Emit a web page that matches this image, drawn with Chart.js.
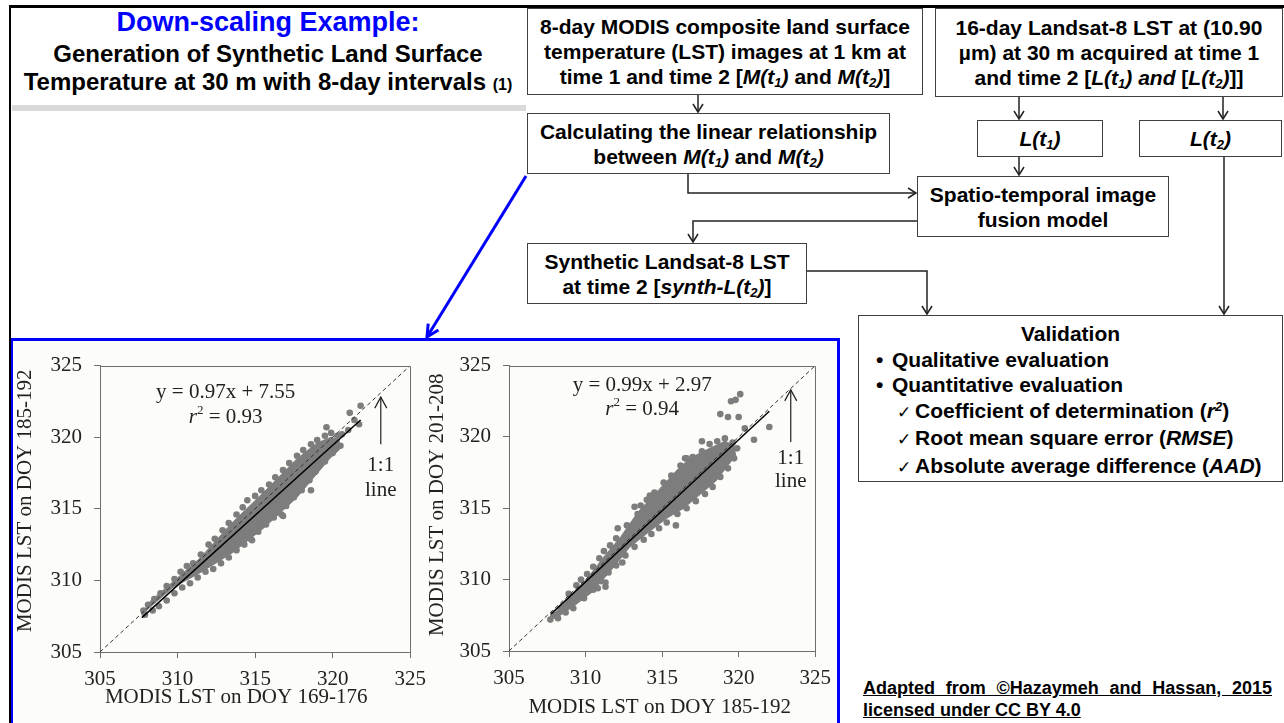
<!DOCTYPE html>
<html>
<head>
<meta charset="utf-8">
<script src="https://cdn.jsdelivr.net/npm/chart.js@4.4.1/dist/chart.umd.min.js"></script>
<style>
  html, body { margin:0; padding:0; background:#fff; }
  body { width:1284px; height:723px; position:relative; overflow:hidden; font-family:"Liberation Sans", Arial, sans-serif; }
  .abs { position:absolute; }
  .box { position:absolute; box-sizing:border-box; border:1.5px solid #404040; background:#fff;
         display:flex; align-items:center; justify-content:center; text-align:center;
         font-weight:bold; font-size:21px; line-height:25px; color:#000; white-space:nowrap; }
  sub { font-size:0.62em; vertical-align:-0.22em; line-height:0; }
  sup { font-size:0.62em; vertical-align:0.55em; line-height:0; }
  .chk { display:inline-block; width:18px; font-family:"DejaVu Sans", sans-serif; font-weight:normal; font-size:17px; }
  .bul { display:inline-block; width:16px; }
  canvas { position:absolute; }
</style>
</head>
<body>
<!-- frame -->
<div class="abs" style="left:9px;top:5px;width:1275px;height:2.5px;background:#000"></div>

<!-- title -->
<div class="abs" style="left:12px;top:5px;width:512px;text-align:center;font-weight:bold;color:#0000ff;font-size:27px;line-height:34px">Down-scaling Example:</div>
<div class="abs" style="left:12px;top:40px;width:512px;text-align:center;font-weight:bold;color:#000;font-size:24px;line-height:28px">Generation of Synthetic Land Surface<br>Temperature at 30 m with 8-day intervals <span style="font-size:16px">(1)</span></div>
<div class="abs" style="left:12px;top:105px;width:514px;height:6px;background:#d9d9d9"></div>

<!-- blue box with the two charts -->
<div class="abs" style="left:10px;top:337.5px;width:830px;height:400px;box-sizing:border-box;border:3px solid #0000ff;background:#fcfcf8"></div>
<canvas id="c1" width="425" height="382" style="left:10px;top:341px"></canvas>
<canvas id="c2" width="420" height="382" style="left:420px;top:341px"></canvas>
<div class="abs" style="left:8.5px;top:5px;width:2.5px;height:718px;background:#000"></div>

<!-- flowchart boxes -->
<div class="box" style="left:527px;top:8px;width:396px;height:87px"><div>8-day MODIS composite land surface<br>temperature (LST) images at 1 km at<br>time 1 and time 2 [<i>M(t<sub>1</sub>)</i> and <i>M(t<sub>2</sub>)</i>]</div></div>
<div class="box" style="left:935px;top:8px;width:348px;height:89px"><div>16-day Landsat-8 LST at (10.90<br>µm) at 30 m acquired at time 1<br>and time 2 [<i>L(t<sub>1</sub>) and</i> [<i>L(t<sub>2</sub>)</i>]]</div></div>
<div class="box" style="left:527px;top:113px;width:363px;height:61px"><div>Calculating the linear relationship<br>between <i>M(t<sub>1</sub>)</i> and <i>M(t<sub>2</sub>)</i></div></div>
<div class="box" style="left:977px;top:120px;width:126px;height:37px"><div><i>L(t<sub>1</sub>)</i></div></div>
<div class="box" style="left:1139px;top:120px;width:143px;height:37px"><div><i>L(t<sub>2</sub>)</i></div></div>
<div class="box" style="left:917px;top:176px;width:252px;height:61px"><div>Spatio-temporal image<br>fusion model</div></div>
<div class="box" style="left:527px;top:243px;width:280px;height:61px"><div>Synthetic Landsat-8 LST<br>at time 2 [<i>synth-L(t<sub>2</sub>)</i>]</div></div>
<div class="box" style="left:858px;top:315px;width:425px;height:167px;display:block;text-align:left;padding-top:5px;line-height:25.5px">
  <div style="text-align:center">Validation</div>
  <div style="padding-left:17px"><span class="bul">•</span>Qualitative evaluation</div>
  <div style="padding-left:17px"><span class="bul">•</span>Quantitative evaluation</div>
  <div style="padding-left:38px"><span class="chk">✓</span>Coefficient of determination (<i>r<sup>2</sup></i>)</div>
  <div style="padding-left:38px"><span class="chk">✓</span>Root mean square error (<i>RMSE</i>)</div>
  <div style="padding-left:38px"><span class="chk">✓</span>Absolute average difference (<i>AAD</i>)</div>
</div>

<!-- credit -->
<div class="abs" style="left:863px;top:677px;width:409px;font-weight:bold;font-size:18px;line-height:22px;text-decoration:underline;text-align:justify;text-align-last:justify">Adapted from ©Hazaymeh and Hassan, 2015</div>
<div class="abs" style="left:863px;top:699px;font-weight:bold;font-size:18px;line-height:22px;text-decoration:underline">licensed under CC BY 4.0</div>

<!-- connectors -->
<svg class="abs" style="left:0;top:0" width="1284" height="723">
  <g fill="none" stroke="#222" stroke-width="1.5">
    <path d="M698 95 V112"/><path d="M693 104 L698 112 L703 104"/>
    <path d="M688 174 V193 H916"/><path d="M908 188 L916 193 L908 198"/>
    <path d="M917 221 H693 V242"/><path d="M688 234 L693 242 L698 234"/>
    <path d="M807 271 H927 V314"/><path d="M922 306 L927 314 L932 306"/>
    <path d="M1019 97 V119"/><path d="M1014 111 L1019 119 L1024 111"/>
    <path d="M1019 157 V175"/><path d="M1014 167 L1019 175 L1024 167"/>
    <path d="M1223 97 V119"/><path d="M1218 111 L1223 119 L1228 111"/>
    <path d="M1224 157 V314"/><path d="M1219 306 L1224 314 L1229 306"/>
  </g>
  <g fill="none" stroke="#0000ff" stroke-width="3">
    <path d="M526 176 L427 337"/>
    <path d="M438.4 329.9 L427 337 L428.2 323.7"/>
  </g>
</svg>

<script>
// ---------- data ----------
const xTickValues = [305, 310, 315, 320, 325];
const yTickValues = [305, 310, 315, 320, 325];

// Plot 1: MODIS LST DOY 169-176 (x) vs DOY 185-192 (y)
const plot1CloudOutline = [
  [307.8,307.8],[308.2,308.5],[309.7,309.9],[311.4,311.5],[313.5,314.0],[315.6,316.2],[317.7,318.5],[319.0,319.6],[319.9,320.0],[320.4,319.8],
  [320.4,319.1],[319.8,318.5],[317.7,315.8],[315.6,313.7],[313.5,311.9],[311.4,310.5],[309.7,309.5],[308.2,308.1],[307.8,307.7]
];
const plot1Points = [
  [307.8,307.9],[308.1,308.3],[308.5,308.7],[308.9,309.1],[309.3,309.6],[309.8,310.1],[310.2,310.6],[310.6,311.0],[311.0,311.2],[311.5,311.8],
  [312.0,312.5],[312.4,312.9],[312.9,313.5],[313.3,314.0],[313.8,314.6],[314.2,315.1],[314.5,315.6],[315.0,315.9],[315.4,316.3],[315.9,316.7],
  [316.3,317.2],[316.8,317.7],[317.2,318.2],[317.7,318.7],[318.1,319.1],[318.6,319.5],[319.0,319.8],[319.5,320.1],[319.9,320.3],[320.3,320.1],
  [320.6,320.2],[321.0,320.5],[321.1,321.7],[321.4,321.2],[321.8,322.2],[321.7,320.9],[320.5,319.4],[320.0,318.9],[319.5,318.3],[318.9,317.6],
  [318.5,317.0],[318.0,316.3],[317.5,315.8],[317.0,315.2],[316.7,314.6],[316.2,314.4],[315.7,313.9],[315.2,313.4],[314.7,312.9],[314.3,312.5],
  [313.8,312.1],[313.3,311.6],[312.8,311.2],[312.3,310.8],[311.8,310.6],[311.3,310.2],[310.8,309.8],[310.3,309.5],[309.8,309.1],[309.3,308.6],
  [308.8,308.2],[308.4,307.9],[307.9,307.6],[316.8,314.5],[314.8,312.8],[318.6,316.3],[319.6,320.7]
];
const plot1OneToOne = [[305,305],[325,325]];
const plot1Fit = [[307.7,307.4],[321.8,321.2]];

// Plot 2: MODIS LST DOY 185-192 (x) vs DOY 201-208 (y)
const plot2CloudOutline = [
  [307.7,307.4],[308.3,308.0],[309.4,309.3],[310.2,310.2],[311.2,311.6],[312.3,313.0],[313.4,314.7],[314.7,316.2],[315.9,317.6],[316.8,318.5],[318.1,319.2],[319.1,319.7],[319.7,319.4],
  [319.8,318.7],[318.5,316.9],[317.4,315.9],[316.4,315.0],[315.3,314.3],[314.2,313.4],[312.9,312.3],[311.7,310.7],[310.4,309.1],[309.3,308.2],[308.2,307.4],[307.7,307.2]
];
const plot2Points = [
  [307.7,307.2],[307.9,307.5],[308.2,307.3],[308.4,308.0],[308.7,307.7],[309.0,308.4],[309.2,308.0],[309.5,309.0],[309.8,309.3],[309.9,308.7],
  [310.3,310.1],[310.5,309.3],[310.8,310.7],[311.0,309.9],[311.3,311.3],[311.5,310.5],[311.3,309.5],[311.8,312.1],[312.0,311.0],[312.3,312.7],
  [312.1,313.6],[312.6,311.7],[312.9,313.4],[313.2,312.3],[313.4,314.6],[313.2,315.1],[313.8,312.8],[314.0,315.6],[314.3,313.2],[314.5,316.1],
  [314.8,313.6],[315.1,316.8],[315.3,314.0],[315.6,317.3],[315.9,313.8],[316.0,314.6],[316.2,318.0],[316.5,318.5],[316.6,315.0],[317.0,318.6],
  [317.2,315.5],[317.6,319.0],[317.8,316.0],[318.1,319.5],[318.3,316.5],[318.6,319.7],[318.8,317.2],[319.1,319.9],[319.3,317.8],[319.6,319.6],
  [319.7,318.5],[319.9,319.2],[318.8,321.6],[319.3,321.4],[319.5,322.5],[319.8,322.6],[320.1,323.0],[320.0,321.4],[320.4,320.6],[321.0,319.8],
  [322.0,320.7],[316.6,318.5],[317.6,319.7],
  [308.9,309.0],[309.4,309.6],[309.7,310.0],[310.1,310.4],[310.5,310.9],[310.9,311.5],[311.2,312.0],[311.6,312.4],[312.0,312.9],[312.7,313.8],
  [313.6,315.2],[314.2,315.9],[311.3,309.8],[310.8,309.4],[312.4,311.2]
];
const plot2OneToOne = [[305,305],[325,325]];
const plot2Fit = [[307.75,307.6],[322.0,321.8]];

// ---------- helpers ----------
const SERIF = '"Liberation Serif","Times New Roman",serif';
const PT_COLOR = '#7d7d7d';
const toXY = arr => arr.map(([x, y]) => ({x, y}));

function annotPlugin(a) {
  return {
    id: 'annot',
    afterDraw(chart) {
      const ctx = chart.ctx, xs = chart.scales.x, ys = chart.scales.y, ca = chart.chartArea;
      ctx.save();
      ctx.strokeStyle = '#6e6e6e'; ctx.lineWidth = 1;
      ctx.beginPath();
      ctx.moveTo(Math.round(ca.left) + 0.5, Math.round(ca.top) + 0.5);
      ctx.lineTo(Math.round(ca.right) + 0.5, Math.round(ca.top) + 0.5);
      ctx.lineTo(Math.round(ca.right) + 0.5, Math.round(ca.bottom) + 0.5);
      ctx.stroke();

      ctx.fillStyle = '#222';
      ctx.textAlign = 'center'; ctx.textBaseline = 'middle';
      ctx.font = '21px ' + SERIF;
      ctx.fillText(a.eq, xs.getPixelForValue(a.eqX), ys.getPixelForValue(a.eqY));
      const cx = xs.getPixelForValue(a.eqX), cy = ys.getPixelForValue(a.r2Y);
      ctx.font = 'italic 21px ' + SERIF; const wr = ctx.measureText('r').width;
      ctx.font = '13px ' + SERIF; const w2 = ctx.measureText('2').width;
      ctx.font = '21px ' + SERIF; const wt = ctx.measureText(' = ' + a.r2).width;
      let sx = cx - (wr + w2 + wt) / 2;
      ctx.textAlign = 'left';
      ctx.font = 'italic 21px ' + SERIF; ctx.fillText('r', sx, cy); sx += wr;
      ctx.font = '13px ' + SERIF; ctx.fillText('2', sx, cy - 7); sx += w2;
      ctx.font = '21px ' + SERIF; ctx.fillText(' = ' + a.r2, sx, cy);
      ctx.textAlign = 'center';
      const ax = xs.getPixelForValue(a.arrowX);
      const ay1 = ys.getPixelForValue(a.arrowFrom), ay2 = ys.getPixelForValue(a.arrowTo);
      ctx.strokeStyle = '#222'; ctx.lineWidth = 1.2;
      ctx.beginPath(); ctx.moveTo(ax, ay1); ctx.lineTo(ax, ay2); ctx.stroke();
      ctx.beginPath(); ctx.moveTo(ax - 6, ay2 + 11); ctx.lineTo(ax, ay2); ctx.lineTo(ax + 6, ay2 + 11); ctx.stroke();
      ctx.fillText('1:1', ax, ys.getPixelForValue(a.lbl1Y));
      ctx.fillText('line', ax, ys.getPixelForValue(a.lbl2Y));
      ctx.fillText(a.xTitle, (ca.left + ca.right) / 2 + a.xTitleDx, ca.bottom + a.xTitleDy);
      ctx.save();
      ctx.translate(ca.left + a.yTitleDx, (ca.top + ca.bottom) / 2 + a.yTitleDy);
      ctx.rotate(-Math.PI / 2);
      ctx.fillText(a.yTitle, 0, 0);
      ctx.restore();
      ctx.restore();
    }
  };
}

function makeChart(id, outline, points, oneToOne, fit, lay, a) {
  const axisCommon = {
    type: 'linear', min: 305, max: 325,
    grid: { drawOnChartArea: false, drawTicks: true, tickLength: 6, color: '#6e6e6e', lineWidth: 1 },
    border: { display: true, color: '#6e6e6e', width: 1 },
  };
  return new Chart(document.getElementById(id), {
    type: 'scatter',
    data: {
      datasets: [
        { type: 'line', data: toXY(outline), fill: 'shape', backgroundColor: PT_COLOR, borderColor: PT_COLOR,
          borderWidth: 1, pointRadius: 0, tension: 0, order: 4 },
        { type: 'scatter', data: toXY(points), backgroundColor: PT_COLOR, borderWidth: 0, pointRadius: 3.3, order: 3 },
        { type: 'line', data: toXY(oneToOne), borderColor: '#333', borderWidth: 1, borderDash: [4, 3],
          pointRadius: 0, fill: false, order: 2 },
        { type: 'line', data: toXY(fit), borderColor: '#000', borderWidth: 1.5, pointRadius: 0, fill: false, order: 1 },
      ]
    },
    options: {
      responsive: false, animation: false, devicePixelRatio: 1,
      layout: { padding: { top: lay.top, right: lay.right, left: 0, bottom: 0 } },
      plugins: { legend: { display: false }, tooltip: { enabled: false } },
      scales: {
        x: Object.assign({}, axisCommon, {
          afterBuildTicks: s => { s.ticks = xTickValues.map(v => ({ value: v })); },
          afterFit: s => { s.height = lay.xh; },
          ticks: { color: '#222', font: { family: SERIF, size: 21 }, padding: 9, maxRotation: 0, autoSkip: false },
        }),
        y: Object.assign({}, axisCommon, {
          afterBuildTicks: s => { s.ticks = yTickValues.map(v => ({ value: v })); },
          afterFit: s => { s.width = lay.yw; },
          ticks: { color: '#222', font: { family: SERIF, size: 21 }, padding: 12, autoSkip: false },
        }),
      }
    },
    plugins: [annotPlugin(a)]
  });
}

makeChart('c1', plot1CloudOutline, plot1Points, plot1OneToOne, plot1Fit,
  { top: 19, right: 20, xh: 71, yw: 90 },
  { eq: 'y = 0.97x + 7.55', r2: '0.93', eqX: 313.1, eqY: 323.15, r2Y: 321.4,
    arrowX: 323.1, arrowFrom: 319.5, arrowTo: 322.8, lbl1Y: 318.0, lbl2Y: 316.3,
    xTitle: 'MODIS LST on DOY 169-176', xTitleDx: -19, xTitleDy: 45,
    yTitle: 'MODIS LST on DOY 185-192', yTitleDx: -75, yTitleDy: -8 });

makeChart('c2', plot2CloudOutline, plot2Points, plot2OneToOne, plot2Fit,
  { top: 19, right: 18, xh: 72, yw: 89 },
  { eq: 'y = 0.99x + 2.97', r2: '0.94', eqX: 313.7, eqY: 323.6, r2Y: 321.9,
    arrowX: 323.4, arrowFrom: 319.64, arrowTo: 323.3, lbl1Y: 318.47, lbl2Y: 316.9,
    xTitle: 'MODIS LST on DOY 185-192', xTitleDx: -2.5, xTitleDy: 56,
    yTitle: 'MODIS LST on DOY 201-208', yTitleDx: -72, yTitleDy: -3.5 });
</script>
</body>
</html>
